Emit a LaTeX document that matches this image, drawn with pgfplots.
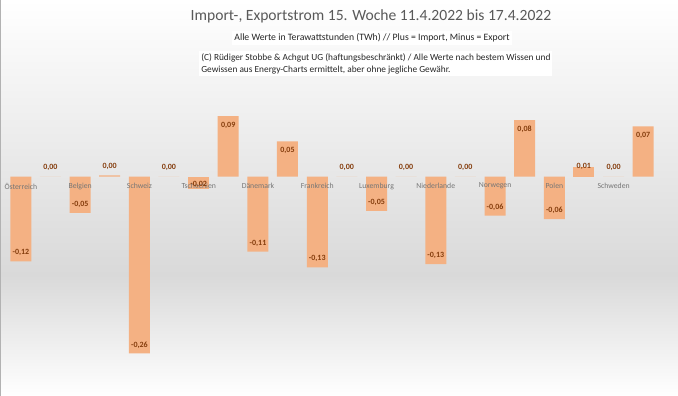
\documentclass[border=0pt]{standalone}
\usepackage{pgfplots}
\pgfplotsset{compat=1.18}
\usepackage{fontspec}
\setmainfont{Carlito}
\definecolor{barc}{RGB}{244,177,131}
\definecolor{lab}{RGB}{132,60,12}
\definecolor{cat}{RGB}{118,118,118}
\definecolor{tit}{RGB}{89,89,89}
\definecolor{bg}{RGB}{217,217,217}
\begin{document}
\begin{tikzpicture}[x=0.75pt,y=0.75pt]
\useasboundingbox (0,0) rectangle (678,396);
\shade[top color=white,bottom color=bg] (0,121) rectangle (678,396);
\shade[top color=bg,bottom color=white] (0,0) rectangle (678,121);
\draw[gray!60,line width=0.75pt] (0.4,0) -- (0.4,396);
\node[font=\fontsize{11.7}{13}\selectfont, text=tit] at (371,380) {Import-, Exportstrom 15. Woche 11.4.2022 bis 17.4.2022};
\node[font=\fontsize{7.3}{9}\selectfont, fill=white, inner sep=2pt, text={rgb,255:red,38;green,38;blue,38}] at (372,358) {Alle Werte in Terawattstunden (TWh) // Plus = Import, Minus = Export};
\node[font=\fontsize{7}{9}\selectfont, anchor=north west, align=left, fill=white, inner sep=1.5pt, text={rgb,255:red,38;green,38;blue,38}] at (199,345) {(C) Rüdiger Stobbe \& Achgut UG (haftungsbeschränkt) / Alle Werte nach bestem Wissen und\\Gewissen aus Energy-Charts ermittelt, aber ohne jegliche Gewähr.};
\begin{axis}[
  at={(4.5pt,19.5pt)}, anchor=south west,
  scale only axis, width=489pt, height=202.5pt,
  xmin=-0.5, xmax=10.5, ymin=-0.2834, ymax=0.1125,
  axis line style={draw=none},
  axis on top,
  ytick=\empty,
  xtick={-0.2487,0.7513,1.7513,2.7513,3.7513,4.7513,5.7513,6.7513,7.7513,8.7513,9.7513},
  xticklabels={Österreich,Belgien,Schweiz,Tschechien,Dänemark,Frankreich,Luxemburg,Niederlande,Norwegen,Polen,Schweden},
  major tick length=0pt,
  xticklabel style={font=\fontsize{5.8}{6}\selectfont, text=cat, anchor=center, yshift=138pt},
  ybar, bar width=15.75pt,
  clip=false,
  /pgf/number format/.cd, fixed, fixed zerofill, precision=2, use comma, assume math mode=true,
  /pgfplots/.cd,
  nodes near coords,
  every node near coord/.append style={font=\fontsize{6}{7}\bfseries\selectfont, text=lab, anchor=center},
]
% export (negative)
\addplot[fill=barc, draw=none, bar shift=-11.06pt, every node near coord/.append style={yshift=6.4pt}]
  coordinates {(0,-0.124) (1,-0.053) (2,-0.259) (4,-0.110) (5,-0.133) (6,-0.050) (7,-0.128) (8,-0.057) (9,-0.062)};
\addplot[fill=barc, draw=none, bar shift=-11.06pt, every node near coord/.append style={yshift=3.2pt}]
  coordinates {(3,-0.018)};
\addplot[fill=barc, draw=none, bar shift=-11.06pt, every node near coord/.append style={yshift=7pt}]
  coordinates {(10,0)};
% import (positive)
\addplot[fill=barc, draw=none, bar shift=11.06pt, every node near coord/.append style={yshift=-6.75pt}]
  coordinates {(3,0.089) (4,0.052) (8,0.083) (10,0.074)};
\addplot[fill=barc, draw=none, bar shift=11.06pt, every node near coord/.append style={yshift=7pt}]
  coordinates {(0,0) (1,0.002) (2,0) (5,0) (6,0) (7,0)};
\addplot[fill=barc, draw=none, bar shift=11.06pt, every node near coord/.append style={yshift=0.4pt}]
  coordinates {(9,0.014)};
\end{axis}
\end{tikzpicture}
\end{document}
